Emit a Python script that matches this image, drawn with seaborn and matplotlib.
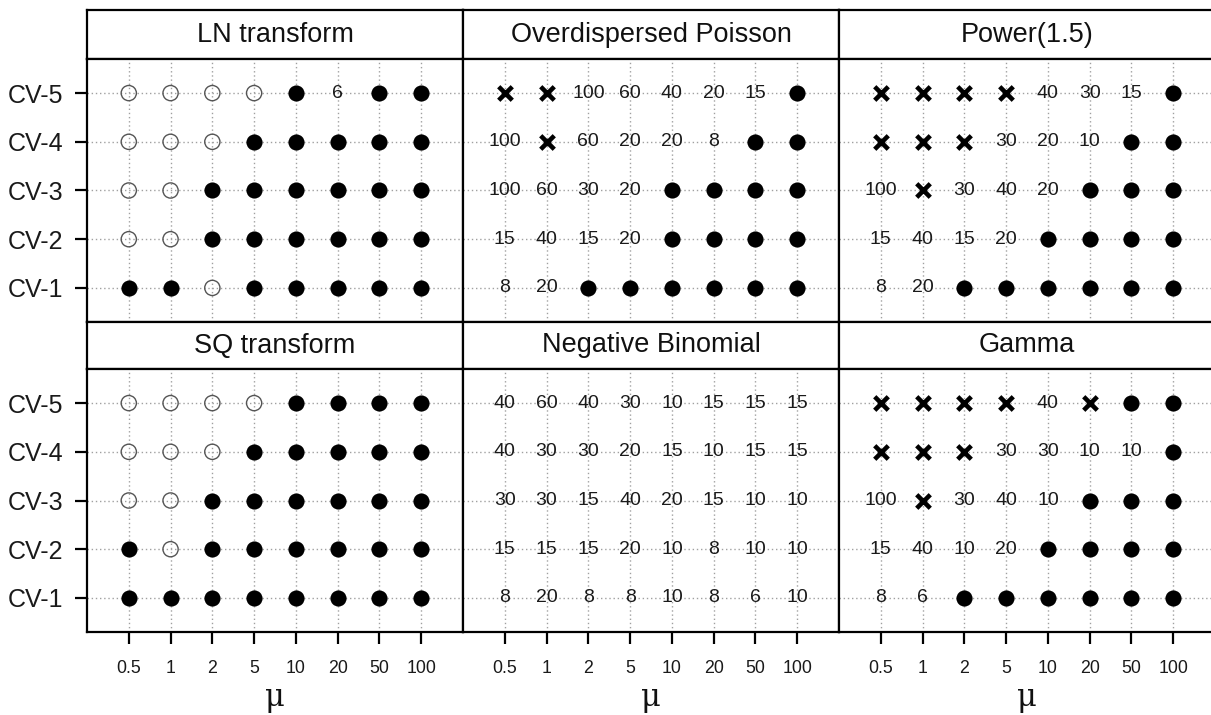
import matplotlib
matplotlib.use("Agg")
import matplotlib.pyplot as plt
import pandas as pd
import seaborn as sns

# ---- data -------------------------------------------------------------
mu_levels = ["0.5", "1", "2", "5", "10", "20", "50", "100"]
cv_levels = ["CV-1", "CV-2", "CV-3", "CV-4", "CV-5"]

# Each grid lists rows from CV-5 (top) down to CV-1, one entry per mu level.
# "F" = filled dot, "O" = open circle, "X" = cross, a number is printed as text.
ln_transform = [
    ["O", "O", "O", "O", "F", "6", "F", "F"],
    ["O", "O", "O", "F", "F", "F", "F", "F"],
    ["O", "O", "F", "F", "F", "F", "F", "F"],
    ["O", "O", "F", "F", "F", "F", "F", "F"],
    ["F", "F", "O", "F", "F", "F", "F", "F"],
]
overdispersed_poisson = [
    ["X", "X", "100", "60", "40", "20", "15", "F"],
    ["100", "X", "60", "20", "20", "8", "F", "F"],
    ["100", "60", "30", "20", "F", "F", "F", "F"],
    ["15", "40", "15", "20", "F", "F", "F", "F"],
    ["8", "20", "F", "F", "F", "F", "F", "F"],
]
power_15 = [
    ["X", "X", "X", "X", "40", "30", "15", "F"],
    ["X", "X", "X", "30", "20", "10", "F", "F"],
    ["100", "X", "30", "40", "20", "F", "F", "F"],
    ["15", "40", "15", "20", "F", "F", "F", "F"],
    ["8", "20", "F", "F", "F", "F", "F", "F"],
]
sq_transform = [
    ["O", "O", "O", "O", "F", "F", "F", "F"],
    ["O", "O", "O", "F", "F", "F", "F", "F"],
    ["O", "O", "F", "F", "F", "F", "F", "F"],
    ["F", "O", "F", "F", "F", "F", "F", "F"],
    ["F", "F", "F", "F", "F", "F", "F", "F"],
]
negative_binomial = [
    ["40", "60", "40", "30", "10", "15", "15", "15"],
    ["40", "30", "30", "20", "15", "10", "15", "15"],
    ["30", "30", "15", "40", "20", "15", "10", "10"],
    ["15", "15", "15", "20", "10", "8", "10", "10"],
    ["8", "20", "8", "8", "10", "8", "6", "10"],
]
gamma = [
    ["X", "X", "X", "X", "40", "X", "F", "F"],
    ["X", "X", "X", "30", "30", "10", "10", "F"],
    ["100", "X", "30", "40", "10", "F", "F", "F"],
    ["15", "40", "10", "20", "F", "F", "F", "F"],
    ["8", "6", "F", "F", "F", "F", "F", "F"],
]

panel_titles = ["LN transform", "Overdispersed Poisson", "Power(1.5)",
                "SQ transform", "Negative Binomial", "Gamma"]
panel_grids = [ln_transform, overdispersed_poisson, power_15,
               sq_transform, negative_binomial, gamma]

# long table: one record per cell
records = []
for title, grid in zip(panel_titles, panel_grids):
    for r, row in enumerate(grid):
        for j, code in enumerate(row):
            records.append({"panel": title, "mu": j, "cv": len(grid) - r, "code": code})
df = pd.DataFrame(records)

# ---- figure ------------------------------------------------------------
sns.set_theme(style="white")
plt.rcParams["font.family"] = ["Liberation Sans", "DejaVu Sans"]

W, H = 1211, 715
fig = plt.figure(figsize=(W / 100, H / 100), dpi=100)


def px_axes(x0, y0, x1, y1):
    return fig.add_axes([x0 / W, 1 - y1 / H, (x1 - x0) / W, (y1 - y0) / H])


col_edges = [(87, 463), (463, 839), (839, 1215)]
row_edges = [((10, 59), (59, 322)), ((322, 369), (369, 632))]
frame_lw = 1.6
grid_kw = dict(color="#a0a0a0", linestyle=(0, (1, 2)), linewidth=1.0)

for k, title in enumerate(panel_titles):
    r, c = divmod(k, 3)
    (sy0, sy1), (py0, py1) = row_edges[r]
    x0, x1 = col_edges[c]

    # strip header
    sax = px_axes(x0, sy0, x1, sy1)
    sax.set_xticks([])
    sax.set_yticks([])
    sax.set_facecolor("white")
    for sp in sax.spines.values():
        sp.set_linewidth(frame_lw)
        sp.set_color("black")
    sax.text(0.5, 0.5, title, ha="center", va="center", fontsize=19.5,
             color="#111111", transform=sax.transAxes)

    # data panel
    ax = px_axes(x0, py0, x1, py1)
    ax.set_facecolor("white")
    for sp in ax.spines.values():
        sp.set_linewidth(frame_lw)
        sp.set_color("black")
    ax.set_axisbelow(True)
    ax.grid(True, **grid_kw)

    sub = df[df["panel"] == title]
    filled = sub[sub["code"] == "F"]
    hollow = sub[sub["code"] == "O"]
    cross = sub[sub["code"] == "X"]
    numbers = sub[~sub["code"].isin(["F", "O", "X"])]

    if len(filled):
        sns.scatterplot(data=filled, x="mu", y="cv", ax=ax, color="black",
                        marker="o", s=135, linewidth=0, legend=False, zorder=3)
    if len(hollow):
        sns.scatterplot(data=hollow, x="mu", y="cv", ax=ax, marker="o", s=120,
                        facecolors="none", edgecolors="#555555", linewidth=1.0,
                        legend=False, zorder=3)
    if len(cross):
        sns.scatterplot(data=cross, x="mu", y="cv", ax=ax, color="black",
                        marker="x", s=95, linewidth=3.3, legend=False, zorder=3)
    for _, row in numbers.iterrows():
        ax.text(row["mu"], row["cv"], row["code"], ha="center", va="center",
                fontsize=14, color="#1a1a1a", zorder=4)

    ax.set_xlim(-1, 8)
    ax.set_ylim(0.3, 5.7)
    ax.set_xticks(range(len(mu_levels)))
    ax.set_yticks(range(1, len(cv_levels) + 1))
    ax.set_xlabel("")
    ax.set_ylabel("")

    if r == 1:
        ax.set_xticklabels(mu_levels)
        ax.tick_params(axis="x", length=8.5, width=1.6, color="black",
                       direction="out", pad=12, labelsize=12.8, labelcolor="#1a1a1a",
                       bottom=True)
        ax.set_xlabel("μ", fontsize=22, family="DejaVu Serif", labelpad=3,
                      color="#111111")
    else:
        ax.tick_params(axis="x", length=0, labelbottom=False)

    if c == 0:
        ax.set_yticklabels(cv_levels)
        ax.tick_params(axis="y", length=8.5, width=1.6, color="black",
                       direction="out", pad=8.5, labelsize=18, labelcolor="#1a1a1a",
                       left=True)
    else:
        ax.tick_params(axis="y", length=0, labelleft=False)

fig.savefig("out.png", dpi=100, facecolor="white")
